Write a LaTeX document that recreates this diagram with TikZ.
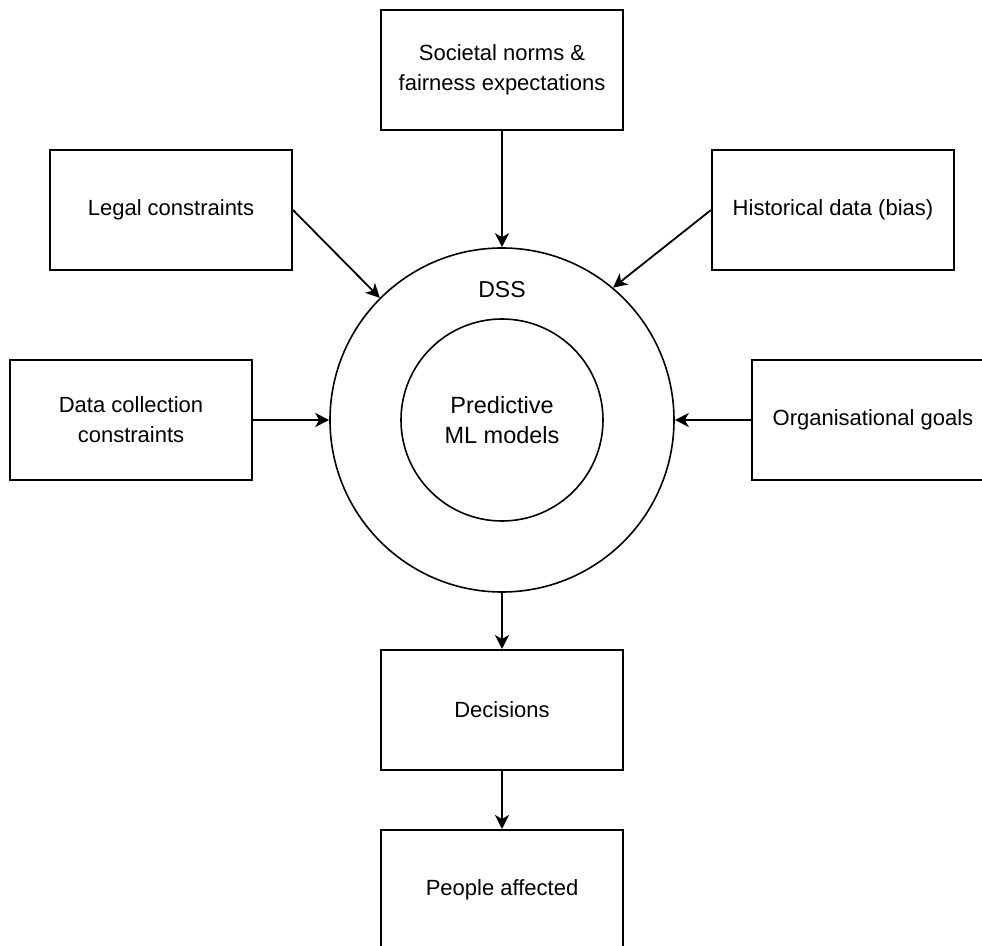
\documentclass[tikz,border=0pt]{standalone}
\usepackage{fontspec}
\setmainfont{Liberation Sans}
\usetikzlibrary{arrows.meta}
\begin{document}
\begin{tikzpicture}
	[x=0.5pt, y=-0.5pt,
	box/.style={draw, line width=1pt, minimum width=121pt, minimum height=60pt,
		align=center, font=\fontsize{11}{15}\selectfont},
	ring/.style={draw, circle, line width=0.8pt, inner sep=0pt,
		align=center, font=\fontsize{11.75}{15}\selectfont},
	arr/.style={-{Stealth[length=7pt, width=7pt, inset=2pt]}, line width=0.9pt}]
	\useasboundingbox (0,0) rectangle (982,946);
	\node[ring, minimum size=172pt] (dss) at (502,420) {};
	\node[ring, minimum size=101pt] (ml) at (502,420) {Predictive\\ML models};
	\node[font=\fontsize{11.5}{15}\selectfont] (dsstext) at (502,290) {DSS};
	\node[box] (norms) at (502,70) {Societal norms \&\\fairness expectations};
	\node[box] (legal) at (171,210) {Legal constraints};
	\node[box] (hist) at (833,210) {Historical data (bias)};
	\node[box] (collect) at (131,420) {Data collection\\constraints};
	\node[box] (goals) at (873,420) {Organisational goals};
	\node[box] (decide) at (502,710) {Decisions};
	\node[box] (people) at (502,890) {People affected};
	\draw[arr] (norms) -- (dss);
	\draw[arr] (legal.east) -- (dss.135);
	\draw[arr] (hist.west) -- (dss.50);
	\draw[arr] (collect) -- (dss);
	\draw[arr] (goals) -- (dss);
	\draw[arr] (dss) -- (decide);
	\draw[arr] (decide) -- (people);
\end{tikzpicture}
\end{document}
